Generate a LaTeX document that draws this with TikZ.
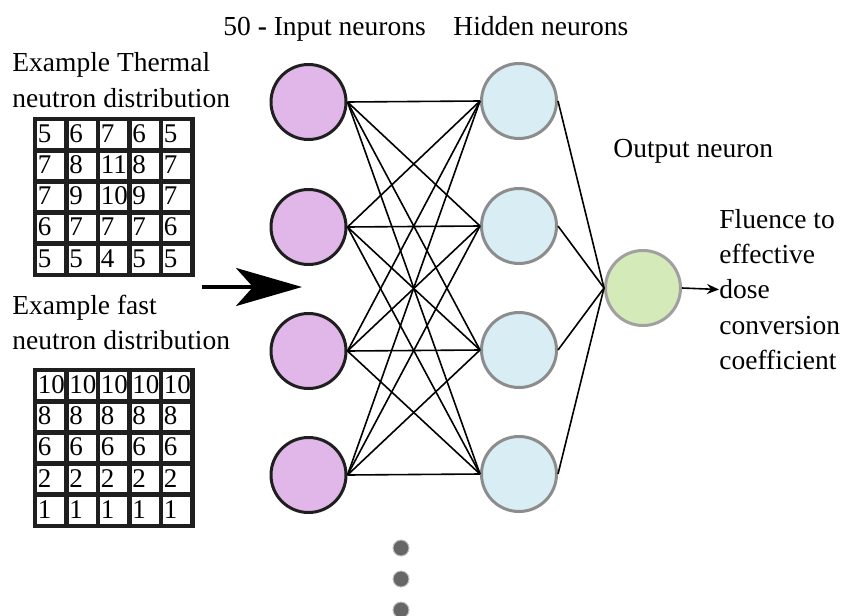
\documentclass[tikz,border=0pt]{standalone}
\usepackage{fontspec}
\setmainfont{Liberation Serif}
\usetikzlibrary{arrows.meta}
\definecolor{inpfill}{HTML}{E0B7E8}
\definecolor{hidfill}{HTML}{D8EEF4}
\definecolor{outfill}{HTML}{D5EAB9}
\definecolor{hidline}{HTML}{8C8C8C}
\definecolor{outline}{HTML}{A0A0A0}
\begin{document}
\begin{tikzpicture}[x=0.5pt,y=-0.5pt,
  neuron/.style={circle, minimum size=37.5pt, inner sep=0pt, line width=1.5pt},
  inneuron/.style={neuron, draw=black!88, fill=inpfill},
  hidneuron/.style={neuron, draw=hidline, fill=hidfill},
  outneuron/.style={neuron, draw=outline, fill=outfill},
  conn/.style={line width=0.8pt, black},
  lbl/.style={font=\fontsize{13.75}{17.6}\selectfont, inner sep=0pt},
  cellnum/.style={font=\fontsize{13.5}{14}\selectfont, inner sep=0pt, anchor=west},
  cellbox/.style={draw=black!88, line width=2.4pt},
  dotmark/.style={circle, fill=black!60, draw=black!25, line width=0.5pt, minimum size=8pt, inner sep=0pt}]
\useasboundingbox (0,0) rectangle (844,615);

% top labels
\node[lbl, anchor=base west] (linp) at (223,36) {50 \textbf{-} Input neurons};
\node[lbl, anchor=base west] (lhid) at (453,36) {Hidden neurons};
\node[lbl, anchor=base west] (lout) at (613,157) {Output neuron};

% left labels
\node[lbl, anchor=west, align=left] (lth) at (12,80) {Example Thermal\\neutron distribution};
\node[lbl, anchor=west, align=left] (lfa) at (12,322.5) {Example fast\\neutron distribution};

% thermal grid
\foreach \row [count=\j from 0] in {{5,6,7,6,5},{7,8,11,8,7},{7,9,10,9,7},{6,7,7,7,6},{5,5,4,5,5}}{
  \foreach \v [count=\i from 0] in \row {
    \draw[cellbox] ({35+31.5*\i},{119+31.2*\j}) rectangle ++(31.5,31.2);
    \node[cellnum] (t-\j-\i) at ({37.5+31.5*\i},{133.5+31.2*\j}) {\v};
  }
}
% fast grid
\foreach \row [count=\j from 0] in {{10,10,10,10,10},{8,8,8,8,8},{6,6,6,6,6},{2,2,2,2,2},{1,1,1,1,1}}{
  \foreach \v [count=\i from 0] in \row {
    \draw[cellbox] ({35+31.5*\i},{370+31.2*\j}) rectangle ++(31.5,31.2);
    \node[cellnum] (f-\j-\i) at ({37.5+31.5*\i},{384.5+31.2*\j}) {\v};
  }
}

% big arrow
\coordinate (bas) at (202,287);
\coordinate (bae) at (302,287);
\draw[line width=2pt, -{Stealth[length=33pt, width=19pt, inset=8.5pt]}] (bas) -- (bae);

% neurons
\node[inneuron] (i1) at (308.5,102) {};
\node[inneuron] (i2) at (308.5,227) {};
\node[inneuron] (i3) at (308.5,351) {};
\node[inneuron] (i4) at (308.5,475) {};
\node[hidneuron] (h1) at (519,101) {};
\node[hidneuron] (h2) at (519,226) {};
\node[hidneuron] (h3) at (519,350) {};
\node[hidneuron] (h4) at (519,474) {};
\node[outneuron] (o) at (643,288) {};

% connections
\foreach \a in {1,...,4}{
  \foreach \b in {1,...,4}{
    \draw[conn] (i\a.east) -- (h\b.west);
  }
}
\foreach \b in {1,...,4}{
  \draw[conn] (h\b.east) -- (o.west);
}

% result text
\node[lbl, anchor=west, align=left] (res) at (719,289.5) {Fluence to\\effective\\dose\\conversion\\coefficient};
\draw[conn, -{Stealth[length=6pt, width=5pt]}] (o.east) -- (res.west);

% dots
\node[dotmark] (d1) at (401,548) {};
\node[dotmark] (d2) at (401,579) {};
\node[dotmark] (d3) at (401,610) {};
\end{tikzpicture}
\end{document}
